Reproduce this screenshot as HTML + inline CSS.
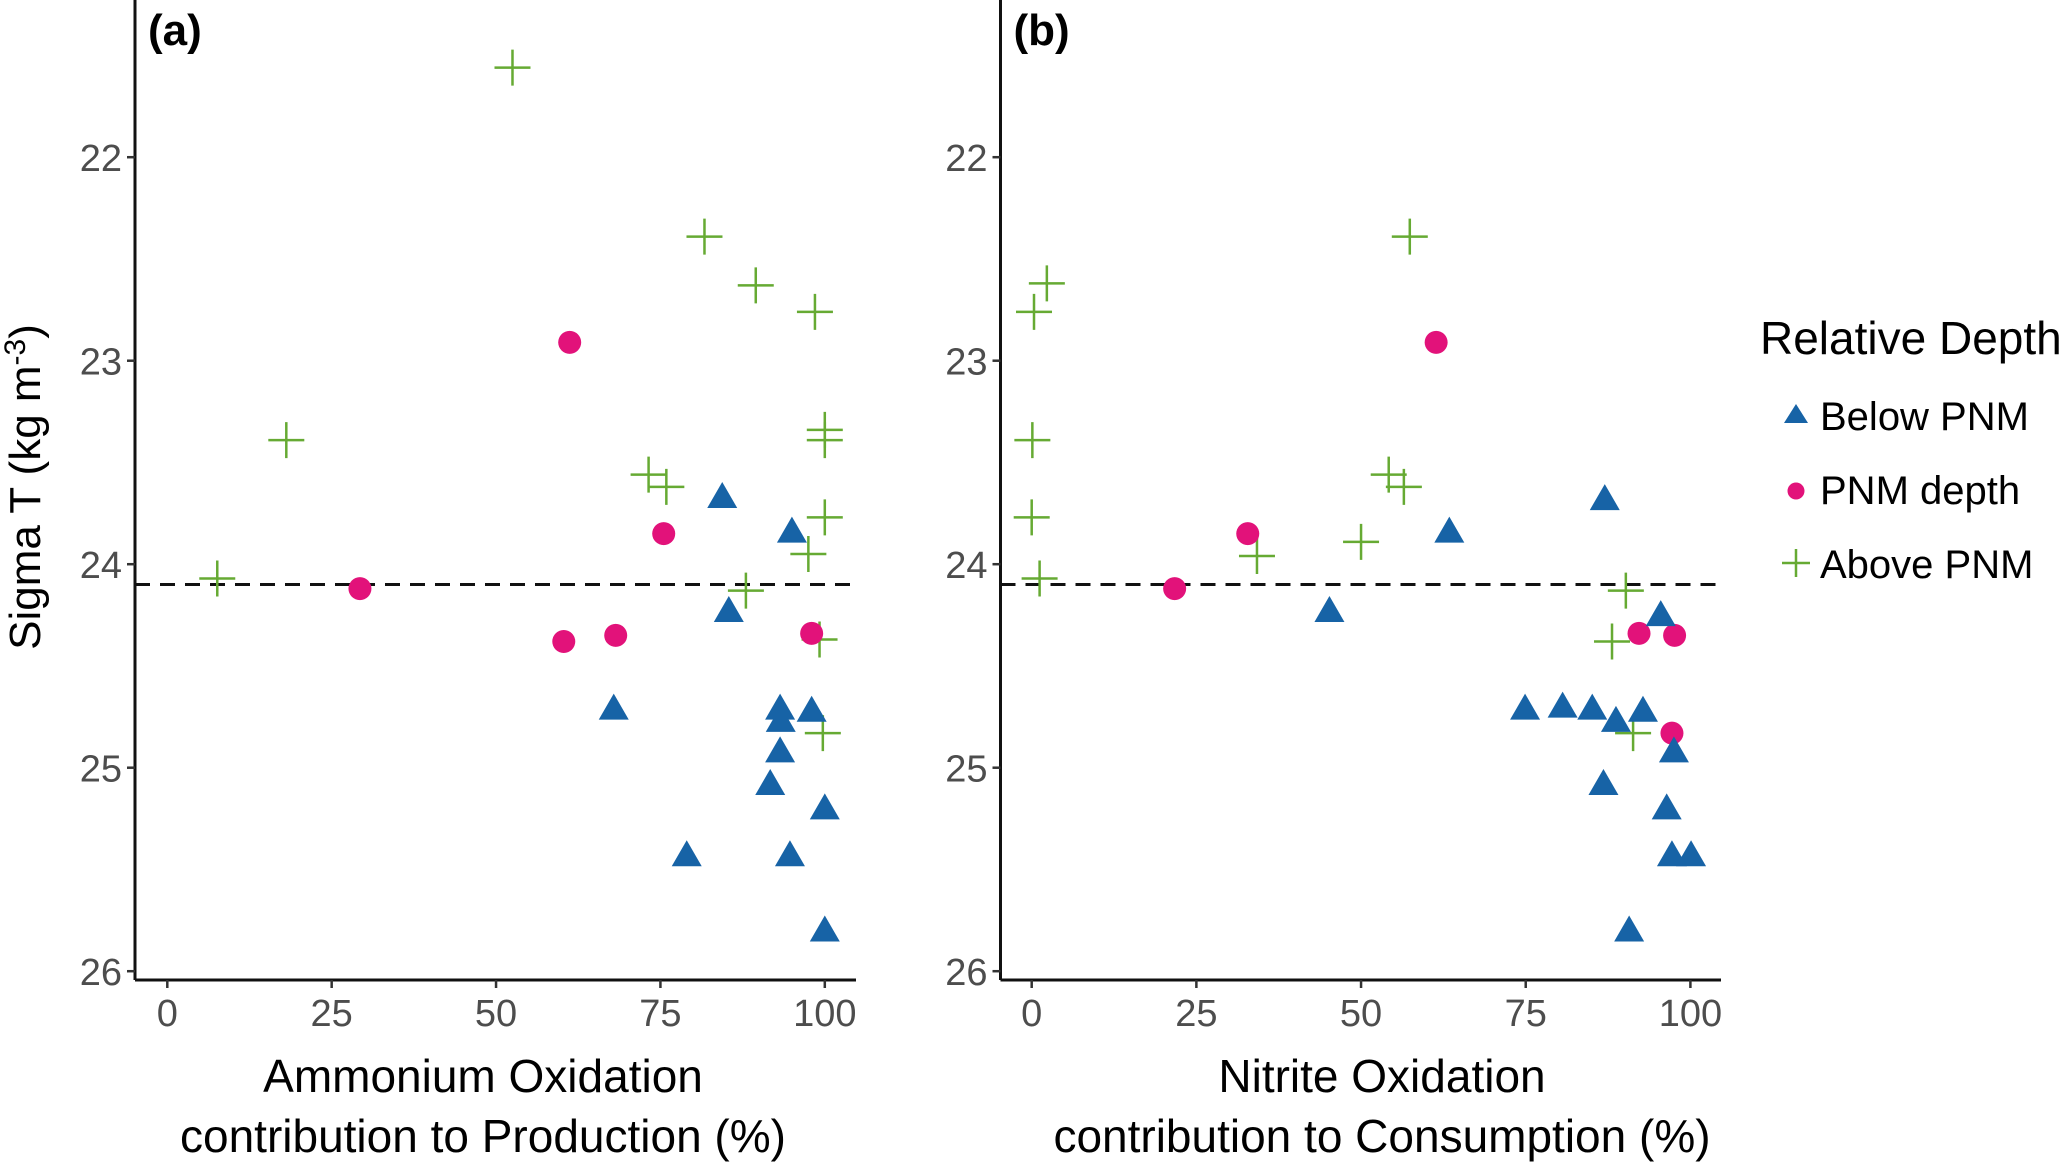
<!DOCTYPE html>
<html><head><meta charset="utf-8"><style>
html,body{margin:0;padding:0;background:#fff;}
svg{display:block;font-family:"Liberation Sans",sans-serif;}
</style></head><body>
<svg id="chart" width="2067" height="1162" viewBox="0 0 2067 1162"></svg>
<script>
// Panel (a) data: Ammonium oxidation contribution (%) vs Sigma T
const aAboveX=[52.5,81.7,89.5,98.5,18.1,7.6,73.2,75.9,100,100,100,97.5,88,99.2,99.7];
const aAboveY=[21.56,22.39,22.63,22.76,23.39,24.07,23.56,23.62,23.34,23.39,23.77,23.95,24.13,24.37,24.83];
const aPnmX=[61.2,75.5,29.3,60.3,68.2,98];
const aPnmY=[22.91,23.85,24.12,24.38,24.35,24.34];
const aBelowX=[84.4,95,85.4,67.9,93.2,93.3,98,93.2,91.7,100,79,94.7,100];
const aBelowY=[23.67,23.84,24.23,24.71,24.71,24.77,24.72,24.92,25.08,25.2,25.43,25.43,25.8];
// Panel (b) data: Nitrite oxidation contribution (%) vs Sigma T
const bAboveX=[57.4,2.3,0.35,0.1,0,1.2,54.2,56.5,50,34.2,90.2,88.1,91.3];
const bAboveY=[22.39,22.62,22.76,23.39,23.77,24.07,23.56,23.62,23.89,23.96,24.13,24.38,24.83];
const bPnmX=[61.4,32.8,21.7,92.2,97.6,97.2];
const bPnmY=[22.91,23.85,24.12,24.34,24.35,24.83];
const bBelowX=[87,63.4,45.2,95.5,74.9,80.6,85.1,88.7,92.8,97.5,86.8,96.4,97.2,100.1,90.7];
const bBelowY=[23.68,23.84,24.23,24.25,24.71,24.70,24.71,24.77,24.72,24.92,25.08,25.2,25.43,25.43,25.8];
const xTicks=[0,25,50,75,100];
const yTicks=[22,23,24,25,26];
const pnmLine=24.1;

const NS="http://www.w3.org/2000/svg";
const svg=document.getElementById('chart');
function mk(tag,attrs,parent,text){const e=document.createElementNS(NS,tag);for(const k in attrs)e.setAttribute(k,attrs[k]);if(text!==undefined)e.textContent=text;(parent||svg).appendChild(e);return e;}
const yS=v=>157.2+(v-22)*203.5;
const BLUE="#1763a6",PINK="#e2127a",GREEN="#66aa33";

function panel(id,axisX,x0,x100,right,aX,aY,pX,pY,bX,bY,label,t1,t2,tcx){
  const xS=v=>x0+v*(x100-x0)/100;
  const g=mk('g',{});
  
  
  const ax=mk('line',{x1:axisX,y1:0,x2:axisX,y2:980,stroke:'#111','stroke-width':3},g);
  
  const bx=mk('line',{x1:axisX,y1:980,x2:right,y2:980,stroke:'#111','stroke-width':3},g);
  
  yTicks.forEach(t=>{
    const y=yS(t);
    mk('line',{x1:axisX-8,y1:y,x2:axisX,y2:y,stroke:'#333','stroke-width':2.5},g);
    const tl=mk('text',{x:axisX-13,y:y+14,'text-anchor':'end','font-size':38,fill:'#4d4d4d'},g,String(t));
    
  });
  xTicks.forEach(t=>{
    const x=xS(t);
    mk('line',{x1:x,y1:980,x2:x,y2:988,stroke:'#333','stroke-width':2.5},g);
    const tl=mk('text',{x:x,y:1026,'text-anchor':'middle','font-size':38,fill:'#4d4d4d'},g,String(t));
    
  });
  const dl=mk('line',{x1:axisX,y1:yS(pnmLine),x2:right,y2:yS(pnmLine),stroke:'#111','stroke-width':3,'stroke-dasharray':'15 10'},g);
  
  aX.forEach((v,i)=>{
    const x=xS(v),y=yS(aY[i]);
    const p=mk('path',{d:`M${x-18},${y}H${x+18}M${x},${y-18}V${y+18}`,stroke:GREEN,'stroke-width':2.5,fill:'none'},g);
    
  });
  pX.forEach((v,i)=>{
    const c=mk('circle',{cx:xS(v),cy:yS(pY[i]),r:11.5,fill:PINK},g);
    
  });
  bX.forEach((v,i)=>{
    const x=xS(v),y=yS(bY[i]);
    const t=mk('path',{d:`M${x},${y-15}L${x+15},${y+11}L${x-15},${y+11}Z`,fill:BLUE},g);
    
  });
  const pl=mk('text',{x:axisX+13,y:45,'font-size':44,'font-weight':'bold',fill:'#000'},g,label);
  
  const x1=mk('text',{x:tcx,y:1092,'text-anchor':'middle','font-size':46,fill:'#000'},g,t1);
  
  const x2=mk('text',{x:tcx,y:1152,'text-anchor':'middle','font-size':46,fill:'#000'},g,t2);
  
}
panel('a',135,167.3,824.8,856,aAboveX,aAboveY,aPnmX,aPnmY,aBelowX,aBelowY,'(a)','Ammonium Oxidation','contribution to Production (%)',483);
panel('b',1000.5,1031.7,1690.4,1721,bAboveX,bAboveY,bPnmX,bPnmY,bBelowX,bBelowY,'(b)','Nitrite Oxidation','contribution to Consumption (%)',1382);

const yt=mk('text',{x:0,y:0,transform:'translate(40,487) rotate(-90)','text-anchor':'middle','font-size':44,fill:'#000'});

yt.appendChild(document.createTextNode('Sigma T (kg m'));
mk('tspan',{dy:-15,'font-size':30},yt,'-3');
mk('tspan',{dy:15},yt,')');

const lg=mk('g',{});

const lt=mk('text',{x:1760,y:354,'font-size':46,fill:'#000'},lg,'Relative Depth');

const names=['Below PNM','PNM depth','Above PNM'];
const ly=[430,504,578];
names.forEach((n,i)=>{
  const cy=ly[i]-15,cx=1796;
  let k;
  if(i===0)k=mk('path',{d:`M${cx},${cy-11}L${cx+12},${cy+8}L${cx-12},${cy+8}Z`,fill:BLUE},lg);
  else if(i===1)k=mk('circle',{cx:cx,cy:cy+2,r:8.5,fill:PINK},lg);
  else k=mk('path',{d:`M${cx-14},${cy}H${cx+14}M${cx},${cy-14}V${cy+14}`,stroke:GREEN,'stroke-width':2.5},lg);
  
  const t=mk('text',{x:1820,y:ly[i],'font-size':40,fill:'#000'},lg,n);
  
});
</script>
</body></html>
